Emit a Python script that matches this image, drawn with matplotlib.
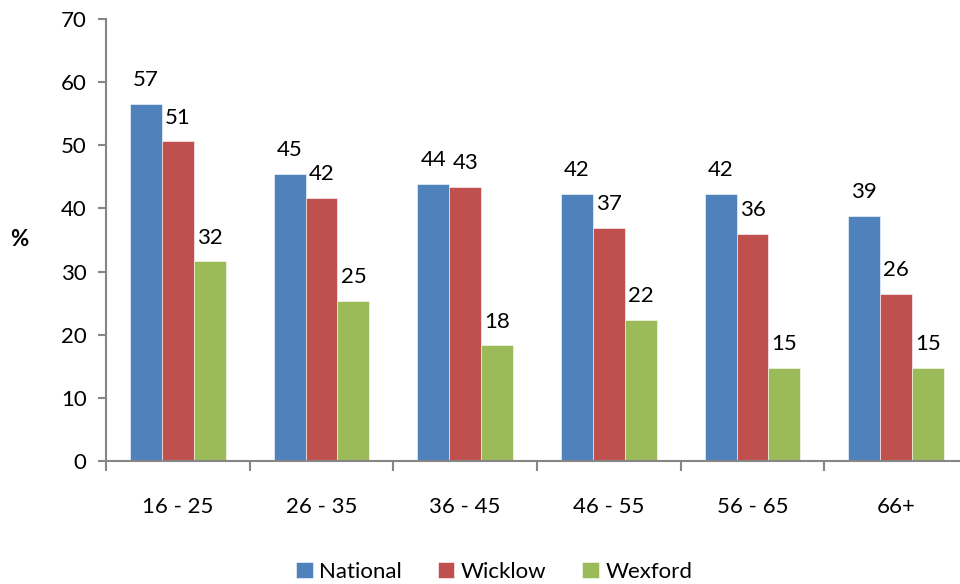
import numpy as np
import matplotlib.pyplot as plt

# Age groups and share (%) for each area
age_groups = ['16 - 25', '26 - 35', '36 - 45', '46 - 55', '56 - 65', '66+']
national = [56.6, 45.4, 43.9, 42.3, 42.3, 38.8]
wicklow = [50.6, 41.6, 43.4, 36.9, 36.0, 26.4]
wexford = [31.6, 25.4, 18.3, 22.3, 14.8, 14.8]

series = [('National', national, '#4F81BD'),
          ('Wicklow', wicklow, '#C0504D'),
          ('Wexford', wexford, '#9BBB59')]

plt.rcParams['font.family'] = ['Lato', 'DejaVu Sans']
grey = '#868686'
fs = 16

fig = plt.figure(figsize=(9.6, 5.84), dpi=100)
ax = fig.add_axes([0.1104, 0.2106, 0.898, 0.7569])

x = np.arange(len(age_groups))
w = 0.222
for i, (name, vals, col) in enumerate(series):
    bars = ax.bar(x + (i - 1) * w, vals, w, color=col, label=name,
                  edgecolor='white', linewidth=0.4)
    ax.bar_label(bars, fmt='%.0f', padding=10, fontsize=fs)

ax.set_xlim(-0.5, len(age_groups) - 0.5)
ax.set_ylim(0, 70)
ax.set_yticks(range(0, 71, 10))
ax.set_xticks(x)
ax.set_xticklabels(age_groups)
ax.set_xticks(np.arange(-0.5, len(age_groups)), minor=True)

for side in ['top', 'right']:
    ax.spines[side].set_visible(False)
for side in ['left', 'bottom']:
    ax.spines[side].set_color(grey)
    ax.spines[side].set_linewidth(1.5)

ax.tick_params(axis='y', length=6, width=1.5, color=grey, labelsize=fs, pad=8)
ax.tick_params(axis='x', which='major', length=0, labelsize=fs, pad=26)
ax.tick_params(axis='x', which='minor', length=7, width=1.5, color=grey)

ax.set_ylabel('%', rotation=0, fontsize=fs, fontweight='bold', labelpad=30,
              va='center')

fig.legend(loc='lower center', bbox_to_anchor=(0.515, -0.03), ncol=3,
           frameon=False, fontsize=fs, handlelength=0.75, handleheight=0.75,
           columnspacing=1.6, handletextpad=0.3)

fig.savefig('out.png', dpi=100)
